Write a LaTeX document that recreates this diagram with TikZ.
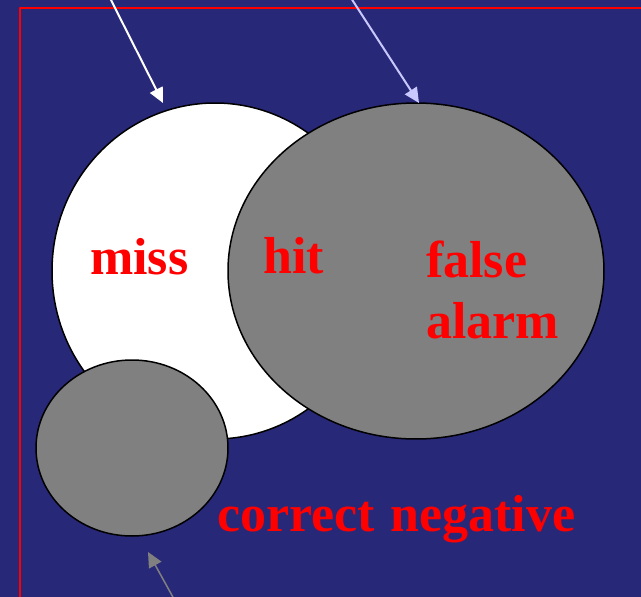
\documentclass[tikz,border=0pt]{standalone}
\usepackage{fontspec}
\setmainfont{Liberation Serif}
\usepackage{xcolor}
\usetikzlibrary{arrows.meta}

\definecolor{slidebg}{RGB}{40,40,120}
\definecolor{setgray}{RGB}{128,128,128}
\definecolor{lavender}{RGB}{200,200,255}

\begin{document}
\begin{tikzpicture}[
   x=1pt,
   y=-1pt,
   line join=round,
   setline/.style={draw=black,line width=1.5pt},
   pointer/.style={line width=2pt,-{Triangle[length=15pt,width=14pt]}},
   label/.style={text=red,font=\bfseries\fontsize{52}{61}\selectfont,
     inner sep=0pt,anchor=base west,align=left}
 ]
   % Slide background and frame.
   \useasboundingbox (0,0) rectangle (641,597);
   \fill[slidebg] (0,0) rectangle (641,597);
   \clip (0,0) rectangle (641,597);
   \draw[red,line width=1.4pt] (20,8) rectangle (660,620);

   % The three sets.
   \draw[setline,fill=white] (215,271) ellipse (163pt and 168pt);
   \draw[setline,fill=setgray] (416,271) ellipse (188pt and 168pt);
   \draw[setline,fill=setgray] (132,448) ellipse (96pt and 88pt);

   % Labels (a two-line node sits on its last baseline).
   \node[label] (miss) at (90,274) {miss};
   \node[label] (hit) at (263,273) {hit};
   \node[label] (falsealarm) at (426,338) {false\\alarm};
   \node[label] (correctneg) at (217,531) {correct\hspace{0.3em}negative};

   % Pointers from off the slide.
   \coordinate (whitefrom) at (110,-2);
   \coordinate (whiteto) at (163,103);
   \coordinate (grayfrom) at (351,-2);
   \coordinate (grayto) at (419,103);
   \coordinate (smallfrom) at (174,599);
   \coordinate (smallto) at (148,552);
   \draw[pointer,white] (whitefrom) -- (whiteto);
   \draw[pointer,lavender] (grayfrom) -- (grayto);
   \draw[pointer,setgray,line width=1.5pt] (smallfrom) -- (smallto);
 \end{tikzpicture}
\end{document}
